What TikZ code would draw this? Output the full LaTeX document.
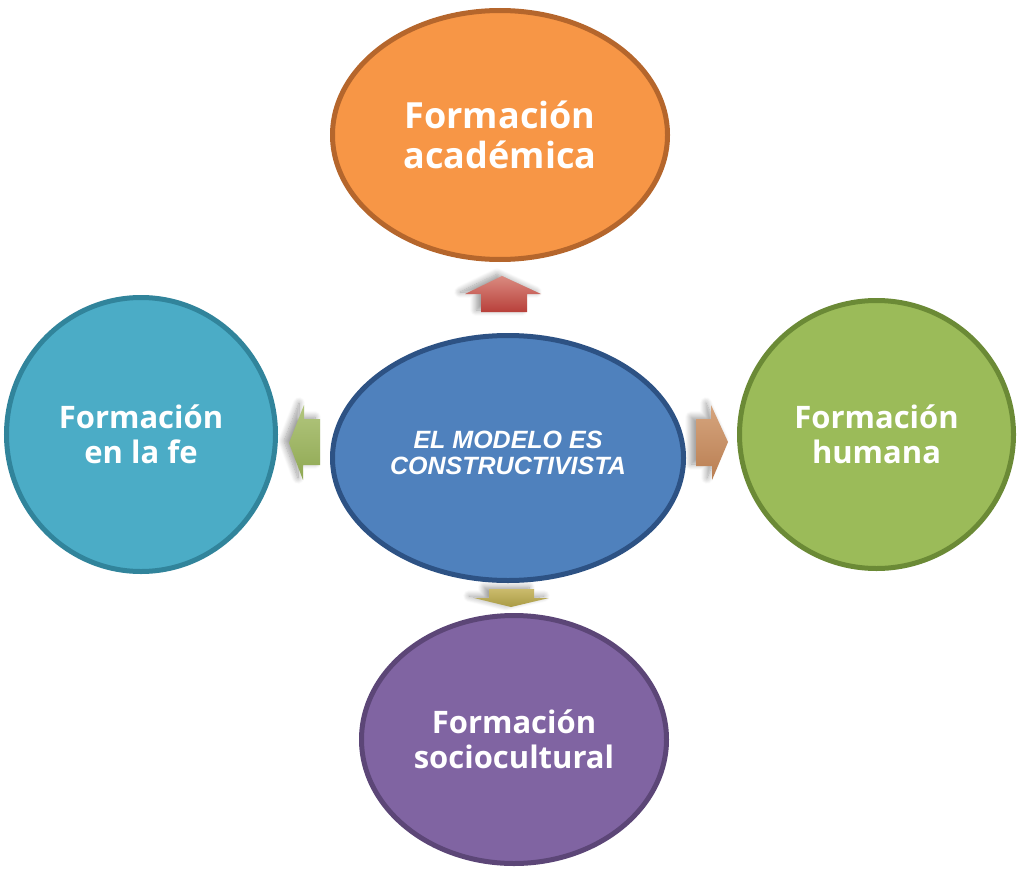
\documentclass[tikz,border=0pt]{standalone}
\usepackage{fontspec}
\setmainfont{Open Sans}
\newfontfamily\centerfont{Liberation Sans Bold Italic}
\usetikzlibrary{shapes.geometric,shadows.blur}
\definecolor{orFill}{HTML}{F79646}\definecolor{orLine}{HTML}{B5662C}
\definecolor{blFill}{HTML}{4F81BD}\definecolor{blLine}{HTML}{2D5284}
\definecolor{tlFill}{HTML}{4BACC6}\definecolor{tlLine}{HTML}{31849B}
\definecolor{grFill}{HTML}{9BBB59}\definecolor{grLine}{HTML}{6B8A36}
\definecolor{puFill}{HTML}{8064A2}\definecolor{puLine}{HTML}{5C4677}
\definecolor{upTop}{HTML}{DA8A80}\definecolor{upBot}{HTML}{B8403A}
\definecolor{lfTop}{HTML}{B2C67E}\definecolor{lfBot}{HTML}{8FA852}
\definecolor{rtTop}{HTML}{D6A57E}\definecolor{rtBot}{HTML}{B97E52}
\definecolor{dnTop}{HTML}{CBBB6C}\definecolor{dnBot}{HTML}{A99B45}
\tikzset{
  bubble/.style={ellipse, inner sep=0pt, line width=5pt, text=white, align=center,
    font=\fontsize{31}{35}\selectfont\bfseries},
  blockarrow/.style={draw=none, blur shadow={shadow xshift=-5pt, shadow yshift=2pt,
    shadow blur steps=10, shadow opacity=40, shadow blur radius=6pt}},
}
\begin{document}
\begin{tikzpicture}[x=1pt,y=-1pt]
\useasboundingbox (0,0) rectangle (1019,872);
% nodes
\node[bubble, fill=orFill, draw=orLine, minimum width=335pt, minimum height=249pt,
  font=\fontsize{36}{40}\selectfont\bfseries] (acad) at (500,135) {Formación\\académica};
\node[bubble, fill=tlFill, draw=tlLine, minimum width=269pt, minimum height=274pt] (fe) at (141,434.5) {Formación\\en la fe};
\node[bubble, fill=grFill, draw=grLine, minimum width=274pt, minimum height=268pt] (hum) at (876.5,434.5) {Formación\\humana};
\node[bubble, fill=puFill, draw=puLine, minimum width=305pt, minimum height=248pt] (socio) at (514,739.5) {Formación\\sociocultural};
\node[bubble, fill=blFill, draw=blLine, minimum width=351pt, minimum height=245pt] (model) at (508,458) {};
\node[text=white, align=center, font=\centerfont\fontsize{25}{26}\selectfont] (modeltext) at (508,453) {EL MODELO ES\\CONSTRUCTIVISTA};
% block arrows
\path[blockarrow, top color=upTop, bottom color=upBot]
  (481,312) -- (481,294) -- (465,294) -- (502,276) -- (541,294) -- (527,294) -- (527,312) -- cycle;
\path[blockarrow, top color=lfTop, bottom color=lfBot]
  (320,419) -- (304,419) -- (304,405) -- (289,443) -- (303,480) -- (303,465) -- (320,465) -- cycle;
\path[blockarrow, top color=rtTop, bottom color=rtBot]
  (696,419) -- (711,419) -- (711,405) -- (728,442) -- (712,480) -- (712,466) -- (696,466) -- cycle;
\path[blockarrow, top color=dnTop, bottom color=dnBot]
  (489,589) -- (534,589) -- (534,598) -- (549,598) -- (511,607) -- (474,598) -- (489,598) -- cycle;
\end{tikzpicture}
\end{document}
